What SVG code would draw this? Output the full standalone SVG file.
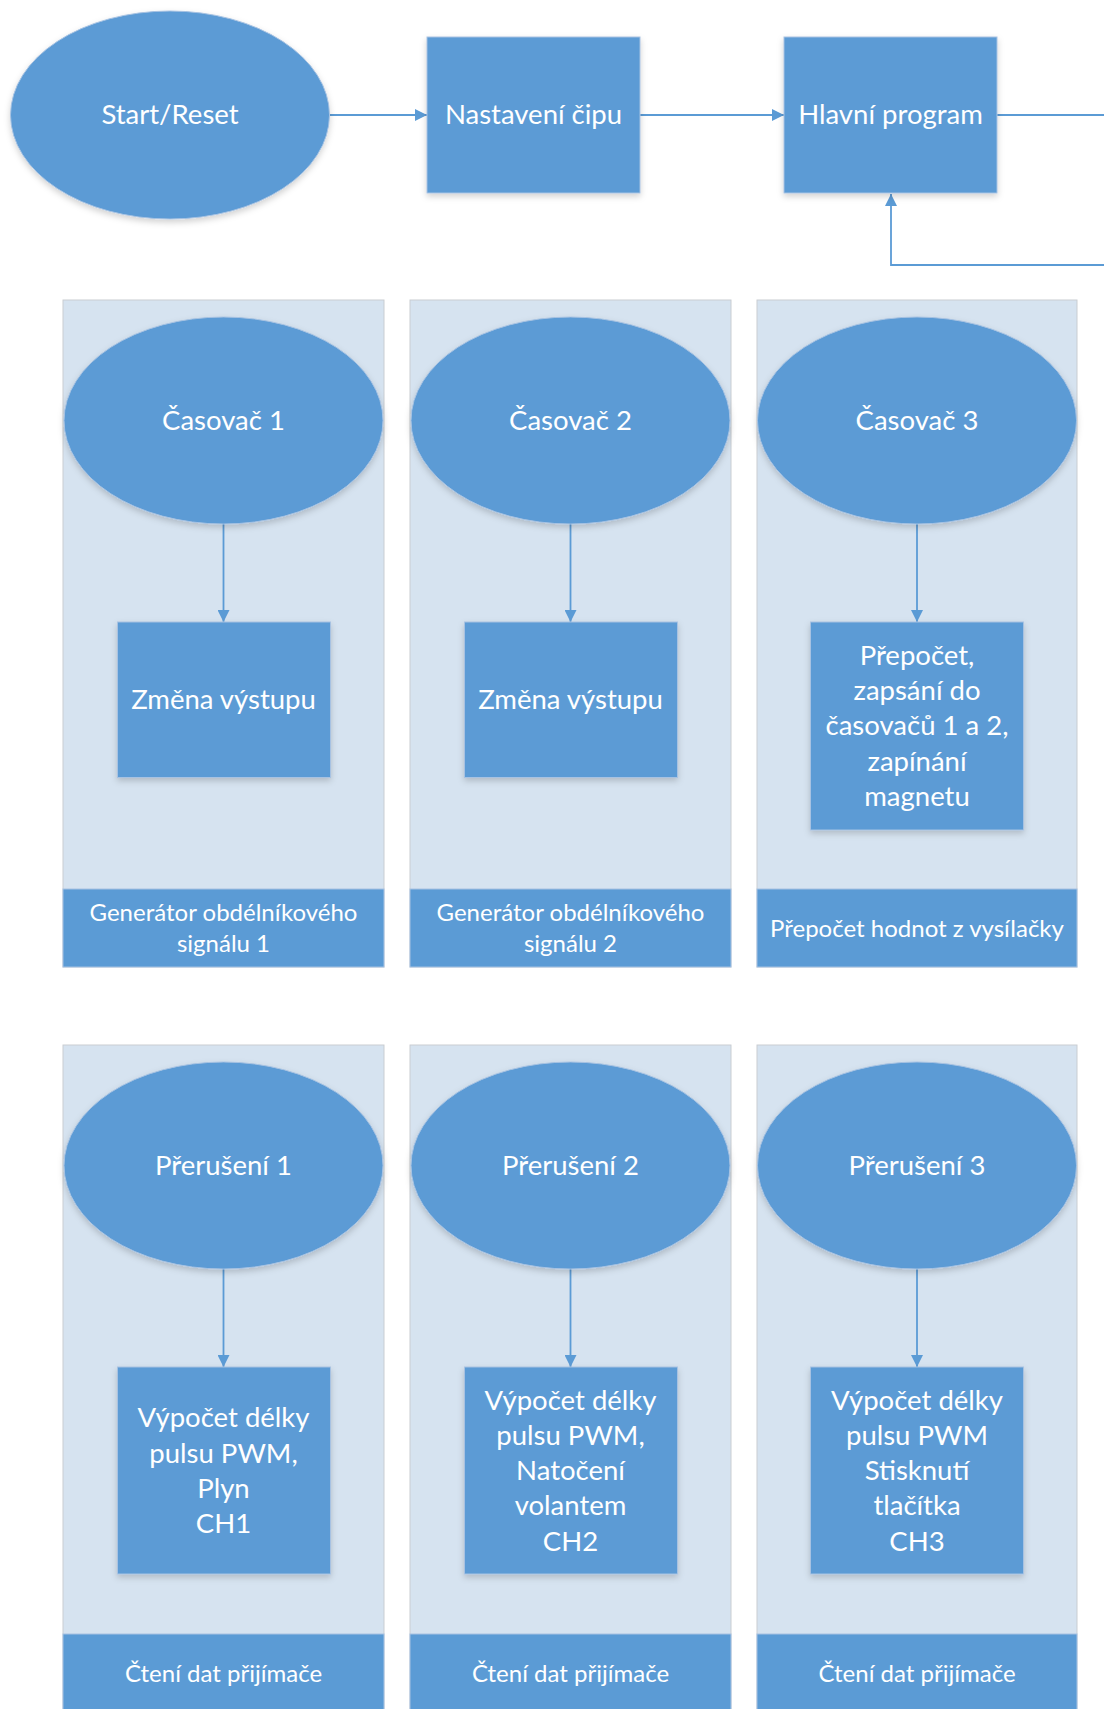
<svg xmlns="http://www.w3.org/2000/svg" width="1104" height="1709" viewBox="0 0 1104 1709">
<style>
.bg{fill:#ffffff}
.panel{fill:#D6E3F0;stroke:#C9CDD2;stroke-width:1}
.shape{fill:#5B9BD5;stroke:#A7C2E2;stroke-width:1;filter:url(#sh)}
.band{fill:#5B9BD5;stroke:#A7C2E2;stroke-width:1}
.t{font-family:Lato,"Open Sans",sans-serif;fill:#ffffff;text-anchor:middle;dominant-baseline:central;font-size:27.5px}
.tb{font-family:Lato,"Open Sans",sans-serif;fill:#ffffff;text-anchor:middle;dominant-baseline:central;font-size:24px}
.c{fill:none;stroke:#5B9BD5;stroke-width:1.8}
</style>
<defs>
<filter id="sh" x="-10%" y="-10%" width="120%" height="130%">
<feDropShadow dx="0" dy="3" stdDeviation="3" flood-color="#000000" flood-opacity="0.18"/>
</filter>
<marker id="ah" markerUnits="userSpaceOnUse" markerWidth="12" markerHeight="12" refX="12" refY="6" orient="auto">
<path d="M0,0 L12,6 L0,12 z" fill="#5B9BD5"/>
</marker>
</defs>
<rect class="bg" x="0" y="0" width="1104" height="1709"/>

<g id="panels">
<rect id="panel-t1" class="panel" x="63" y="300" width="321" height="667"/>
<rect id="panel-t2" class="panel" x="410" y="300" width="321" height="667"/>
<rect id="panel-t3" class="panel" x="757" y="300" width="320" height="667"/>
<rect id="panel-p1" class="panel" x="63" y="1045" width="321" height="680"/>
<rect id="panel-p2" class="panel" x="410" y="1045" width="321" height="680"/>
<rect id="panel-p3" class="panel" x="757" y="1045" width="320" height="680"/>
</g>

<g id="connectors">
<line class="c" x1="330" y1="115" x2="427" y2="115" marker-end="url(#ah)"/>
<line class="c" x1="640" y1="115" x2="784" y2="115" marker-end="url(#ah)"/>
<line class="c" x1="997" y1="115" x2="1104" y2="115"/>
<polyline class="c" points="1104,265 891,265 891,194" marker-end="url(#ah)"/>
<line class="c" x1="223.5" y1="524" x2="223.5" y2="622" marker-end="url(#ah)"/>
<line class="c" x1="570.5" y1="524" x2="570.5" y2="622" marker-end="url(#ah)"/>
<line class="c" x1="917" y1="524" x2="917" y2="622" marker-end="url(#ah)"/>
<line class="c" x1="223.5" y1="1269" x2="223.5" y2="1367" marker-end="url(#ah)"/>
<line class="c" x1="570.5" y1="1269" x2="570.5" y2="1367" marker-end="url(#ah)"/>
<line class="c" x1="917" y1="1269" x2="917" y2="1367" marker-end="url(#ah)"/>
</g>

<g id="start">
<ellipse class="shape" cx="170" cy="115" rx="159.5" ry="104"/>
<text class="t" x="170" y="113">Start/Reset</text>
</g>
<g id="nastaveni">
<rect class="shape" x="427" y="37" width="213" height="156"/>
<text class="t" x="533.5" y="113">Nastavení čipu</text>
</g>
<g id="hlavni">
<rect class="shape" x="784" y="37" width="213" height="156"/>
<text class="t" x="890.5" y="113">Hlavní program</text>
</g>

<g id="casovac1">
<ellipse class="shape" cx="223.5" cy="420.5" rx="159.5" ry="103.5"/>
<text class="t" x="223.5" y="419">Časovač 1</text>
</g>
<g id="zmena1">
<rect class="shape" x="117.5" y="622" width="213" height="155.5"/>
<text class="t" x="223.5" y="698">Změna výstupu</text>
</g>
<g id="band-t1">
<rect class="band" x="63" y="889" width="321" height="78"/>
<text class="tb" x="223.5" y="911">Generátor obdélníkového</text>
<text class="tb" x="223.5" y="942">signálu 1</text>
</g>

<g id="casovac2">
<ellipse class="shape" cx="570.5" cy="420.5" rx="159.5" ry="103.5"/>
<text class="t" x="570.5" y="419">Časovač 2</text>
</g>
<g id="zmena2">
<rect class="shape" x="464.5" y="622" width="213" height="155.5"/>
<text class="t" x="570.5" y="698">Změna výstupu</text>
</g>
<g id="band-t2">
<rect class="band" x="410" y="889" width="321" height="78"/>
<text class="tb" x="570.5" y="911">Generátor obdélníkového</text>
<text class="tb" x="570.5" y="942">signálu 2</text>
</g>

<g id="casovac3">
<ellipse class="shape" cx="917" cy="420.5" rx="159.5" ry="103.5"/>
<text class="t" x="917" y="419">Časovač 3</text>
</g>
<g id="prepocet">
<rect class="shape" x="810.5" y="622" width="213" height="208"/>
<text class="t" x="917" y="654.5">Přepočet,</text>
<text class="t" x="917" y="689.5">zapsání do</text>
<text class="t" x="917" y="724.5">časovačů 1 a 2,</text>
<text class="t" x="917" y="760">zapínání</text>
<text class="t" x="917" y="795">magnetu</text>
</g>
<g id="band-t3">
<rect class="band" x="757" y="889" width="320" height="78"/>
<text class="tb" x="917" y="927">Přepočet hodnot z vysílačky</text>
</g>

<g id="preruseni1">
<ellipse class="shape" cx="223.5" cy="1165.5" rx="159.5" ry="103.5"/>
<text class="t" x="223.5" y="1164.5">Přerušení 1</text>
</g>
<g id="vypocet1">
<rect class="shape" x="117.5" y="1367" width="213" height="207"/>
<text class="t" x="223.5" y="1416.5">Výpočet délky</text>
<text class="t" x="223.5" y="1452">pulsu PWM,</text>
<text class="t" x="223.5" y="1487">Plyn</text>
<text class="t" x="223.5" y="1522">CH1</text>
</g>
<g id="band-p1">
<rect class="band" x="63" y="1634" width="321" height="90"/>
<text class="tb" x="223.5" y="1672">Čtení dat přijímače</text>
</g>

<g id="preruseni2">
<ellipse class="shape" cx="570.5" cy="1165.5" rx="159.5" ry="103.5"/>
<text class="t" x="570.5" y="1164.5">Přerušení 2</text>
</g>
<g id="vypocet2">
<rect class="shape" x="464.5" y="1367" width="213" height="207"/>
<text class="t" x="570.5" y="1399.5">Výpočet délky</text>
<text class="t" x="570.5" y="1434.5">pulsu PWM,</text>
<text class="t" x="570.5" y="1469.5">Natočení</text>
<text class="t" x="570.5" y="1504.5">volantem</text>
<text class="t" x="570.5" y="1540">CH2</text>
</g>
<g id="band-p2">
<rect class="band" x="410" y="1634" width="321" height="90"/>
<text class="tb" x="570.5" y="1672">Čtení dat přijímače</text>
</g>

<g id="preruseni3">
<ellipse class="shape" cx="917" cy="1165.5" rx="159.5" ry="103.5"/>
<text class="t" x="917" y="1164.5">Přerušení 3</text>
</g>
<g id="vypocet3">
<rect class="shape" x="810.5" y="1367" width="213" height="207"/>
<text class="t" x="917" y="1399.5">Výpočet délky</text>
<text class="t" x="917" y="1434.5">pulsu PWM</text>
<text class="t" x="917" y="1469.5">Stisknutí</text>
<text class="t" x="917" y="1504.5">tlačítka</text>
<text class="t" x="917" y="1540">CH3</text>
</g>
<g id="band-p3">
<rect class="band" x="757" y="1634" width="320" height="90"/>
<text class="tb" x="917" y="1672">Čtení dat přijímače</text>
</g>
</svg>
